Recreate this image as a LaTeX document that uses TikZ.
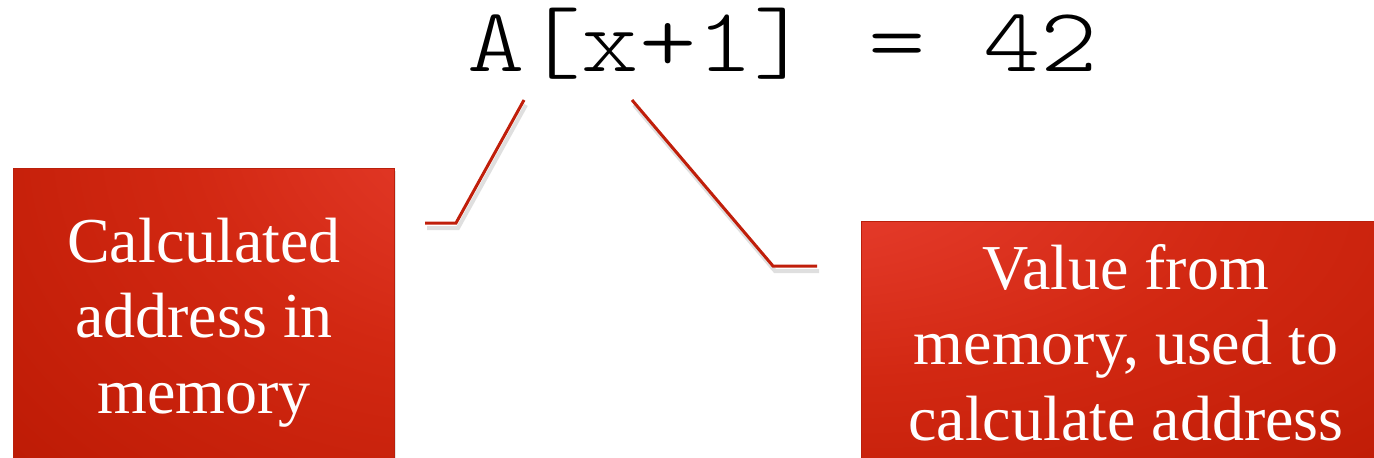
\documentclass[tikz,border=0pt]{standalone}
\usepackage{fontspec}
\newfontfamily\boxserif{Liberation Serif}
\newfontfamily\codemono{lmmonolt10-regular.otf}
\definecolor{boxlight}{RGB}{236,66,52}
\definecolor{boxmid}{RGB}{210,40,18}
\definecolor{boxdark}{RGB}{182,22,0}
\definecolor{boxedge}{RGB}{186,32,12}
\definecolor{connred}{RGB}{192,30,10}
\pgfdeclareradialshading{lshade}{\pgfpoint{44bp}{39bp}}{color(0bp)=(boxlight); color(38bp)=(boxmid); color(85bp)=(boxdark); color(200bp)=(boxdark)}
\pgfdeclareradialshading{rshade}{\pgfpoint{-34bp}{38bp}}{color(0bp)=(boxlight); color(38bp)=(boxmid); color(85bp)=(boxdark); color(200bp)=(boxdark)}
\tikzset{
  redbox/.style={draw=boxedge, line width=1.2pt, inner sep=0pt, anchor=north west},
  boxtext/.style={text=white, font=\boxserif\fontsize{64}{76}\selectfont, inner sep=0pt, anchor=base},
  codetext/.style={font=\codemono\fontsize{91}{91}\selectfont, inner sep=0pt, anchor=base west},
  conn/.style={draw=connred, line width=3pt},
  connshadow/.style={draw=black!25, line width=4pt, opacity=0.5, transform canvas={shift={(2pt,-5pt)}}},
  boxshadow/.style={fill=black!10}
}
\begin{document}
\begin{tikzpicture}[x=1pt,y=1pt]
\useasboundingbox (0,0) rectangle (1374,-458);
\clip (0,0) rectangle (1374,-458);
% boxes
\fill[boxshadow] (15,-171) rectangle (396,-470);
\node[redbox, shading=lshade, minimum width=381pt, minimum height=300pt] (lbox) at (13,-168) {};
\fill[boxshadow] (863,-224) rectangle (1395,-470);
\node[redbox, shading=rshade, minimum width=530pt, minimum height=245pt] (rbox) at (861,-221) {};
% box texts
\node[boxtext] (l1) at (204,-262) {Calculated};
\node[boxtext] (l2) at (204,-337) {address in};
\node[boxtext] (l3) at (204,-413) {memory};
\node[boxtext] (r1) at (1126,-289) {Value from};
\node[boxtext] (r2) at (1126,-364) {memory, used to};
\node[boxtext] (r3) at (1126,-440) {calculate address};
% code
\node[codetext] (code) at (467,-71) {\scalebox{1.2}[1]{A[x+1] = 42}};
% connector points
\coordinate (c1) at (524,-100);
\coordinate (b1) at (456,-223);
\coordinate (e1) at (425,-223);
\coordinate (c2) at (632,-100);
\coordinate (b2) at (773,-266);
\coordinate (e2) at (817,-266);
% shadows
\draw[connshadow] (c1) -- (b1) -- (e1);
\draw[connshadow] (c2) -- (b2) -- (e2);
% connectors
\draw[conn] (c1) -- (b1) -- (e1);
\draw[conn] (c2) -- (b2) -- (e2);
\end{tikzpicture}
\end{document}
